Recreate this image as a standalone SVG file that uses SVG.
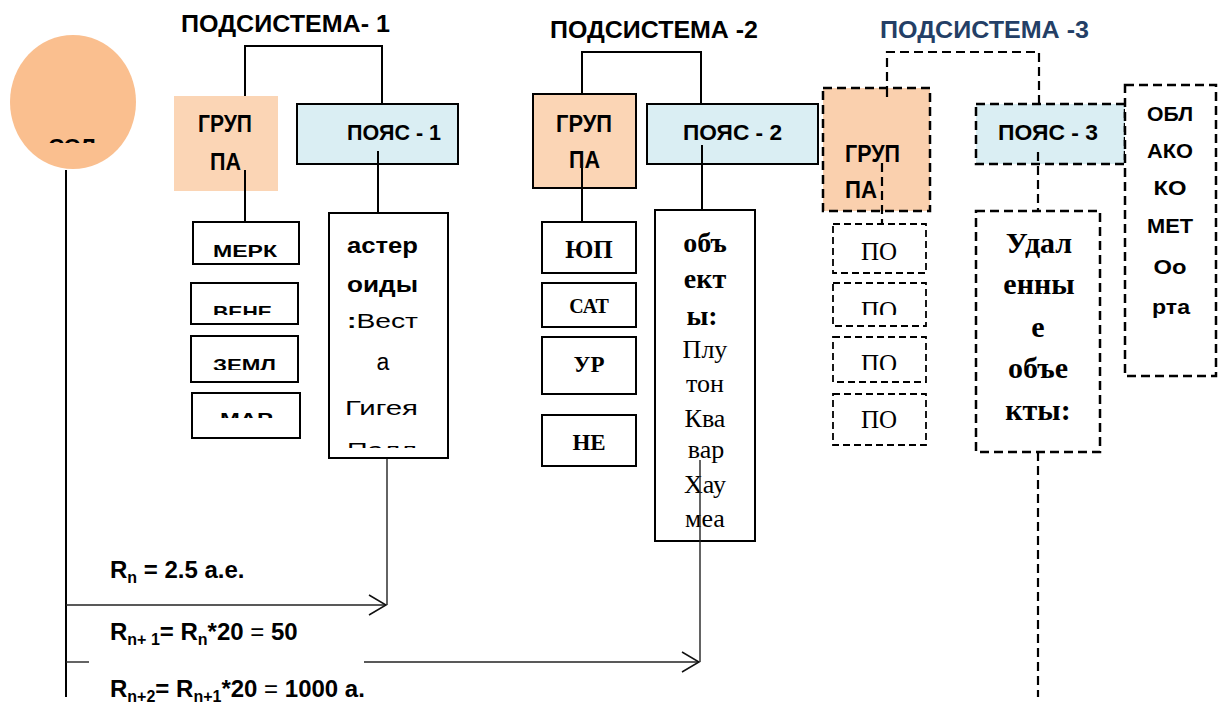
<svg xmlns="http://www.w3.org/2000/svg" width="1226" height="711" viewBox="0 0 1226 711">
<style>
.sans{font-family:"Liberation Sans",Arial,sans-serif;font-weight:bold;fill:#000}
.sansr{font-family:"Liberation Sans",Arial,sans-serif;font-weight:normal;fill:#000}
.serif{font-family:"Liberation Serif","Times New Roman",serif;fill:#000}
.b{font-weight:bold}
.box{fill:#fff;stroke:#000;stroke-width:2}
.dbox{fill:#fff;stroke:#000;stroke-width:2.5;stroke-dasharray:9 5}
.dbox2{fill:#fff;stroke:#000;stroke-width:1.8;stroke-dasharray:7 4}
.grp{fill:#FBD5B5}
.belt{fill:#DAEEF3}
.ln{fill:none;stroke:#000;stroke-width:2}
.dln{fill:none;stroke:#000;stroke-width:2.2;stroke-dasharray:9 5}
.thin{fill:none;stroke:#222;stroke-width:1.4}
</style>
<defs>
<marker id="arr" markerUnits="userSpaceOnUse" markerWidth="24" markerHeight="24" viewBox="-20 -12 24 24" refX="0" refY="0" orient="auto">
<path d="M-17,-10 L0,0 L-17,10" fill="none" stroke="#111" stroke-width="1.5"/>
</marker>
<clipPath id="cSun"><rect x="0" y="0" width="200" height="143"/></clipPath>
<clipPath id="cVene"><rect x="190" y="283" width="110" height="32"/></clipPath>
<clipPath id="cZeml"><rect x="190" y="336" width="110" height="34"/></clipPath>
<clipPath id="cMar"><rect x="190" y="393" width="110" height="25"/></clipPath>
<clipPath id="cAst"><rect x="329" y="213" width="119" height="235"/></clipPath>
<clipPath id="cPo2"><rect x="833" y="283" width="93" height="32"/></clipPath>
<clipPath id="cPo3"><rect x="833" y="337" width="93" height="33"/></clipPath>
</defs>
<rect width="1226" height="711" fill="#fff"/>

<g id="connectors">
<path class="ln" d="M245,96 V46 H382 V104"/>
<path class="ln" d="M582,94 V52 H701 V104"/>
<path class="dln" d="M887,95 V52 H1039 V104"/>
<path class="ln" d="M66,170 V697"/>
<path class="thin" d="M387,458 V605"/>
<path class="thin" d="M66,605 H386" marker-end="url(#arr)"/>
<path class="thin" d="M66,662 H89"/>
<path class="thin" d="M364,662 H699" marker-end="url(#arr)"/>
<path class="dln" d="M1038,452 V697"/>
</g>

<g id="sun">
<ellipse cx="73" cy="102" rx="63" ry="67" fill="#FABF8F"/>
<text class="sans" x="72" y="154" font-size="22" text-anchor="middle" clip-path="url(#cSun)">СОЛ</text>
</g>

<g id="title1"><text class="sans" x="181" y="32" font-size="24" textLength="209" lengthAdjust="spacingAndGlyphs">ПОДСИСТЕМА- 1</text></g>
<g id="title2"><text class="sans" x="550" y="38" font-size="24" textLength="208" lengthAdjust="spacingAndGlyphs">ПОДСИСТЕМА -2</text></g>
<g id="title3"><text class="sans" x="880" y="38" font-size="24" textLength="209" lengthAdjust="spacingAndGlyphs" style="fill:#243F66">ПОДСИСТЕМА -3</text></g>

<!-- Subsystem 1 -->
<g id="group1">
<rect class="grp" x="174" y="96" width="104" height="95"/>
<text class="sans" x="198" y="132" font-size="24" textLength="54" lengthAdjust="spacingAndGlyphs">ГРУП</text>
<text class="sans" x="210" y="170" font-size="24" textLength="31" lengthAdjust="spacingAndGlyphs">ПА</text>
</g>
<g id="belt1">
<rect class="box belt" x="297" y="104" width="161" height="60"/>
<text class="sans" x="347" y="140" font-size="22" textLength="94" lengthAdjust="spacingAndGlyphs">ПОЯС - 1</text>
</g>
<path class="ln" d="M245,170 V222"/>
<path class="ln" d="M378,151 V213"/>
<g id="merk">
<rect class="box" x="193" y="222" width="106" height="42"/>
<text class="sans" x="213" y="257" font-size="17" textLength="64" lengthAdjust="spacingAndGlyphs">МЕРК</text>
</g>
<g id="vene">
<rect class="box" x="191" y="283" width="107" height="41"/>
<text class="sans" x="213" y="318" font-size="17" textLength="59" lengthAdjust="spacingAndGlyphs" clip-path="url(#cVene)">ВЕНЕ</text>
</g>
<g id="zeml">
<rect class="box" x="191" y="336" width="107" height="46"/>
<text class="sans" x="213" y="371" font-size="17" textLength="63" lengthAdjust="spacingAndGlyphs" clip-path="url(#cZeml)">ЗЕМЛ</text>
</g>
<g id="mar">
<rect class="box" x="192" y="393" width="108" height="45"/>
<text class="sans" x="220" y="425" font-size="17" textLength="53" lengthAdjust="spacingAndGlyphs" clip-path="url(#cMar)">МАР</text>
</g>
<g id="asteroids">
<rect class="box" x="329" y="213" width="119" height="245"/>
<g clip-path="url(#cAst)">
<text class="sans" x="347" y="253" font-size="22" textLength="71" lengthAdjust="spacingAndGlyphs">астер</text>
<text class="sans" x="347" y="292" font-size="22" textLength="71" lengthAdjust="spacingAndGlyphs">оиды</text>
<text class="sansr" x="347" y="328" font-size="20" textLength="71" lengthAdjust="spacingAndGlyphs"><tspan style="font-weight:bold">:</tspan>Вест</text>
<text class="sansr" x="383" y="370" font-size="23" text-anchor="middle">а</text>
<text class="sansr" x="345" y="415" font-size="20" textLength="73" lengthAdjust="spacingAndGlyphs">Гигея</text>
<text class="sansr" x="347" y="457" font-size="20" textLength="70" lengthAdjust="spacingAndGlyphs">Палл</text>
</g>
</g>

<!-- Subsystem 2 -->
<g id="group2">
<rect class="box grp" x="533" y="94" width="103" height="94"/>
<text class="sans" x="556" y="132" font-size="24" textLength="56" lengthAdjust="spacingAndGlyphs">ГРУП</text>
<text class="sans" x="569" y="168" font-size="24" textLength="31" lengthAdjust="spacingAndGlyphs">ПА</text>
</g>
<g id="belt2">
<rect class="box belt" x="647" y="104" width="171" height="60"/>
<text class="sans" x="683" y="140" font-size="22" textLength="99" lengthAdjust="spacingAndGlyphs">ПОЯС -  2</text>
</g>
<path class="ln" d="M582,168 V222"/>
<path class="ln" d="M702,145 V210"/>
<g id="jup">
<rect class="box" x="542" y="222" width="94" height="51"/>
<text class="serif b" x="589" y="258" font-size="25" text-anchor="middle">ЮП</text>
</g>
<g id="sat">
<rect class="box" x="542" y="283" width="94" height="44"/>
<text class="serif b" x="589" y="313" font-size="20" text-anchor="middle">САТ</text>
</g>
<g id="ur">
<rect class="box" x="542" y="337" width="94" height="57"/>
<text class="serif b" x="589" y="372" font-size="23" text-anchor="middle">УР</text>
</g>
<g id="ne">
<rect class="box" x="542" y="415" width="94" height="51"/>
<text class="serif b" x="589" y="450" font-size="23" text-anchor="middle">НЕ</text>
</g>
<g id="objects">
<rect class="box" x="655" y="210" width="100" height="331"/>
<text class="serif b" x="705" y="252" font-size="28" text-anchor="middle">объ</text>
<text class="serif b" x="705" y="288" font-size="28" text-anchor="middle">ект</text>
<text class="serif b" x="702" y="325" font-size="28" text-anchor="middle">ы:</text>
<text class="serif" x="705" y="358" font-size="26" text-anchor="middle">Плу</text>
<text class="serif" x="705" y="392" font-size="26" text-anchor="middle">тон</text>
<text class="serif" x="705" y="427" font-size="26" text-anchor="middle">Ква</text>
<text class="serif" x="706" y="458" font-size="26" text-anchor="middle">вар</text>
<text class="serif" x="705" y="493" font-size="26" text-anchor="middle">Хау</text>
<text class="serif" x="705" y="527" font-size="26" text-anchor="middle">меа</text>
</g>
<path class="thin" d="M700,460 V662"/>

<!-- Subsystem 3 -->
<g id="group3">
<rect class="dbox" x="823" y="88" width="107" height="123" style="fill:#FAD0AE"/>
<text class="sans" x="845" y="162" font-size="24" textLength="55" lengthAdjust="spacingAndGlyphs">ГРУП</text>
<text class="sans" x="845" y="198" font-size="24" textLength="32" lengthAdjust="spacingAndGlyphs">ПА</text>
</g>
<path class="dln" d="M887,88 V98"/>
<path class="dln" d="M882,163 V224"/>
<g id="belt3">
<rect class="dbox belt" x="976" y="104" width="149" height="60"/>
<text class="sans" x="998" y="140" font-size="22" textLength="100" lengthAdjust="spacingAndGlyphs">ПОЯС -  3</text>
</g>
<path class="dln" d="M1038,152 V211"/>
<g id="oort">
<rect class="dbox" x="1125" y="85" width="91" height="291"/>
<text class="sans" x="1170" y="121" font-size="21" text-anchor="middle" textLength="46" lengthAdjust="spacingAndGlyphs">ОБЛ</text>
<text class="sans" x="1170" y="158" font-size="21" text-anchor="middle" textLength="46" lengthAdjust="spacingAndGlyphs">АКО</text>
<text class="sans" x="1170" y="195" font-size="21" text-anchor="middle" textLength="33" lengthAdjust="spacingAndGlyphs">КО</text>
<text class="sans" x="1170" y="233" font-size="21" text-anchor="middle" textLength="46" lengthAdjust="spacingAndGlyphs">МЕТ</text>
<text class="sans" x="1170" y="274" font-size="21" text-anchor="middle" textLength="33" lengthAdjust="spacingAndGlyphs">Оо</text>
<text class="sans" x="1171" y="314" font-size="21" text-anchor="middle" textLength="38" lengthAdjust="spacingAndGlyphs">рта</text>
</g>
<g id="po1">
<rect class="dbox2" x="833" y="224" width="93" height="49"/>
<text class="serif" x="879" y="260" font-size="25" text-anchor="middle">ПО</text>
</g>
<g id="po2">
<rect class="dbox2" x="833" y="283" width="93" height="43"/>
<text class="serif" x="879" y="319" font-size="25" text-anchor="middle" clip-path="url(#cPo2)">ПО</text>
</g>
<g id="po3">
<rect class="dbox2" x="833" y="337" width="93" height="45"/>
<text class="serif" x="879" y="372" font-size="25" text-anchor="middle" clip-path="url(#cPo3)">ПО</text>
</g>
<g id="po4">
<rect class="dbox2" x="833" y="394" width="93" height="51"/>
<text class="serif" x="879" y="428" font-size="25" text-anchor="middle">ПО</text>
</g>
<g id="distant">
<rect class="dbox" x="976" y="211" width="124" height="241"/>
<text class="serif b" x="1039" y="253" font-size="30" text-anchor="middle">Удал</text>
<text class="serif b" x="1039" y="294" font-size="30" text-anchor="middle">енны</text>
<text class="serif b" x="1038" y="337" font-size="30" text-anchor="middle">е</text>
<text class="serif b" x="1038" y="378" font-size="30" text-anchor="middle">объе</text>
<text class="serif b" x="1038" y="420" font-size="30" text-anchor="middle">кты:</text>
</g>

<!-- formulas -->
<g id="f1"><text class="sans" x="110" y="578" font-size="24">R<tspan font-size="16" dy="5">n</tspan><tspan dy="-5"> = 2.5 а.е.</tspan></text></g>
<g id="f2"><text class="sans" x="110" y="640" font-size="24">R<tspan font-size="16" dy="5">n+ 1</tspan><tspan dy="-5">= R</tspan><tspan font-size="16" dy="5">n</tspan><tspan dy="-5">*20 </tspan><tspan font-weight="normal">=</tspan><tspan> 50</tspan></text></g>
<g id="f3"><text class="sans" x="110" y="697" font-size="24">R<tspan font-size="16" dy="5">n+2</tspan><tspan dy="-5">= R</tspan><tspan font-size="16" dy="5">n+1</tspan><tspan dy="-5">*20 </tspan><tspan font-weight="normal">=</tspan><tspan> 1000 а.</tspan></text></g>
</svg>
